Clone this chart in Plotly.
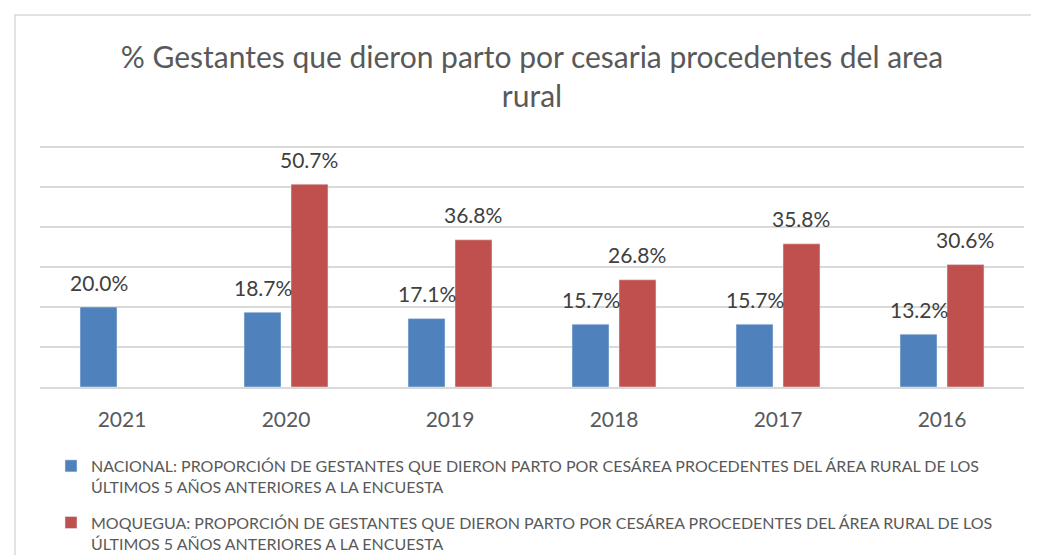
import plotly.graph_objects as go

years = ["2021", "2020", "2019", "2018", "2017", "2016"]
nacional = [20.0, 18.7, 17.1, 15.7, 15.7, 13.2]
moquegua = [None, 50.7, 36.8, 26.8, 35.8, 30.6]
name_nac = "NACIONAL: PROPORCIÓN DE GESTANTES QUE DIERON PARTO POR CESÁREA PROCEDENTES DEL ÁREA RURAL DE LOS<br>ÚLTIMOS 5 AÑOS ANTERIORES A LA ENCUESTA"
name_moq = "MOQUEGUA: PROPORCIÓN DE GESTANTES QUE DIERON PARTO POR CESÁREA PROCEDENTES DEL ÁREA RURAL DE LOS<br>ÚLTIMOS 5 AÑOS ANTERIORES A LA ENCUESTA"
title = "% Gestantes que dieron parto por cesaria procedentes del area<br>rural"

BLUE = "#4F81BD"
RED = "#C0504D"
FONT = "Lato"

OFF = 8  # page body margin
W, H = 1039 - OFF, 555 - OFF
# target plot area in screen pixels
PX0, PX1, PY0, PY1 = 40, 1024, 145, 387
ML, MR = PX0 - OFF, W - (PX1 - OFF)
MT, MB = PY0 - OFF, H - (PY1 - OFF)
pw = W - ML - MR
ph = H - MT - MB

fig = go.Figure()
fig.add_trace(go.Bar(x=years, y=nacional, name=name_nac, marker_color=BLUE, legendgroup="a"))
fig.add_trace(go.Bar(x=years, y=moquegua, name=name_moq, marker_color=RED, legendgroup="b"))

bargap = 0.427
slot = (1 - bargap) * pw / len(years) / 2
for vals, sgn in ((nacional, -1), (moquegua, 1)):
    for i, v in enumerate(vals):
        if v is None:
            continue
        fig.add_annotation(x=i, y=v, xref="x", yref="y", text=f"{v:.1f}%", showarrow=False,
                           xshift=sgn * slot / 2, yshift=25, yanchor="middle",
                           font=dict(family=FONT, size=21, color="#404040"))

def px_x(p):
    return (p - PX0) / pw
def px_y(p):
    return (PY1 - p) / ph

fig.add_shape(type="rect", xref="paper", yref="paper",
              x0=px_x(15), x1=px_x(1070), y0=px_y(15), y1=px_y(600),
              line=dict(color="#D9D9D9", width=1.5), fillcolor="rgba(0,0,0,0)", layer="below")

fig.update_layout(
    width=W, height=H,
    margin=dict(l=ML, r=MR, t=MT, b=MB, autoexpand=False),
    paper_bgcolor="white", plot_bgcolor="white",
    barmode="group", bargap=bargap, bargroupgap=0.213,
    title=dict(text=title, x=0.5, xref="paper", y=1 - 60 / H, yanchor="top",
               font=dict(family=FONT, size=30, color="#595959")),
    showlegend=True,
    legend=dict(x=px_x(51), y=px_y(449), xanchor="left", yanchor="top",
                font=dict(family=FONT, size=16, color="#595959"),
                tracegroupgap=12, itemwidth=30, traceorder="grouped", valign="top",
                bgcolor="rgba(0,0,0,0)"),
    font=dict(family=FONT, color="#595959"),
)
fig.update_xaxes(type="category", range=[-0.5, len(years) - 0.5], showgrid=False, ticks="",
                 showline=True, linecolor="#D9D9D9", linewidth=1.5,
                 tickfont=dict(family=FONT, size=21, color="#595959"), ticklabelstandoff=13)
fig.update_yaxes(range=[0, 60.5], tickvals=[10, 20, 30, 40, 50, 60], showgrid=True,
                 gridcolor="#D9D9D9", gridwidth=1.5, showticklabels=False, zeroline=False)

fig.write_html("out.html")
